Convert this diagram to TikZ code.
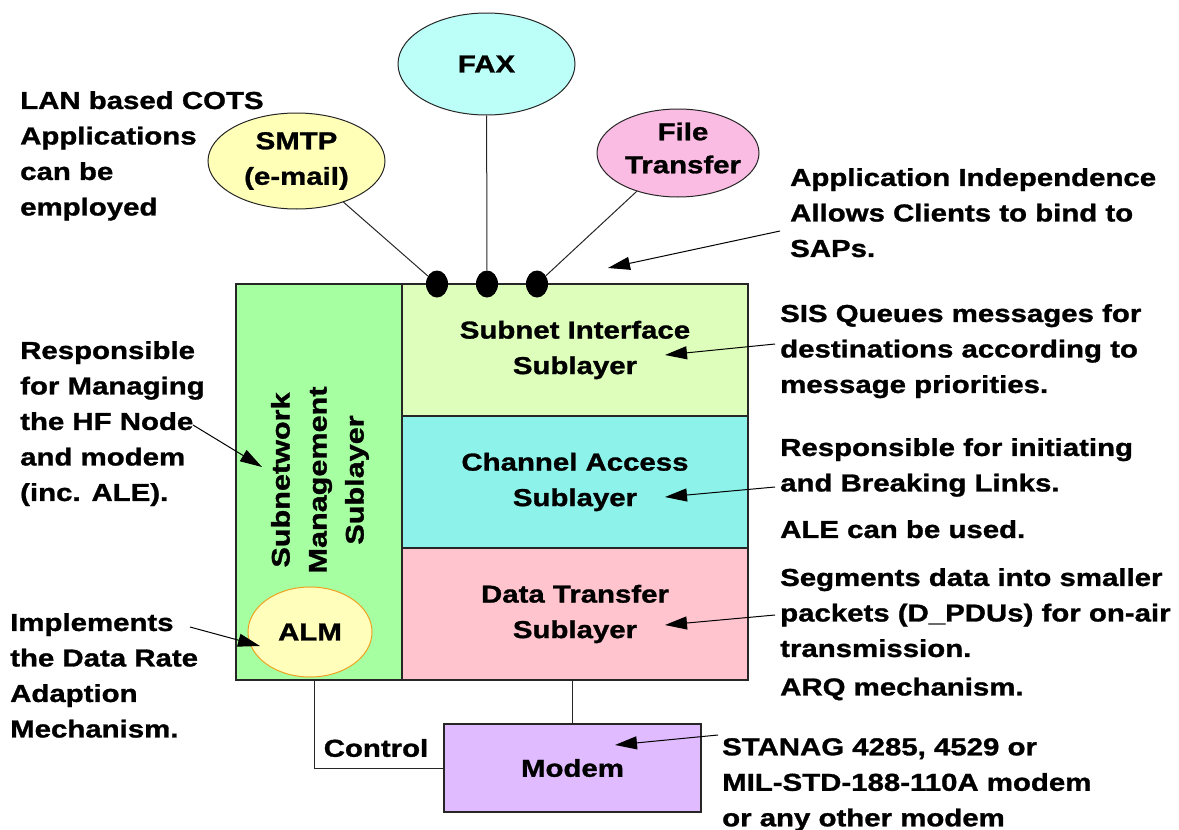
\documentclass[tikz,border=0pt]{standalone}
\usepackage{fontspec}
\setmainfont{Liberation Sans}[FakeStretch=1.2, BoldFeatures={FakeBold=1.2}]
\usetikzlibrary{shapes.geometric,arrows.meta}
\definecolor{smgreen}{RGB}{166,255,160}
\definecolor{sisgreen}{RGB}{221,255,187}
\definecolor{cacyan}{RGB}{140,242,234}
\definecolor{dtpink}{RGB}{255,196,206}
\definecolor{modemlilac}{RGB}{224,187,255}
\definecolor{faxcyan}{RGB}{187,255,248}
\definecolor{smtpyellow}{RGB}{255,255,184}
\definecolor{ftpink}{RGB}{251,188,228}
\definecolor{almyellow}{RGB}{255,255,187}
\definecolor{almorange}{RGB}{240,160,32}
\tikzset{
  bigfont/.style={font=\fontsize{24.5}{35.5}\selectfont\bfseries},
  layerbox/.style={draw=black!85, line width=1.3pt, bigfont, align=center, inner sep=0pt},
  app/.style={ellipse, draw=black!85, line width=1pt, bigfont, align=center, inner sep=0pt},
  sap/.style={ellipse, fill=black, inner sep=0pt, minimum width=22pt, minimum height=27pt},
  note/.style={bigfont, align=left, inner sep=0pt, anchor=north west},
  link/.style={draw=black!85, line width=1pt},
  pointer/.style={line width=1pt, -{Triangle[length=22pt,width=13pt]}},
}
\begin{document}
\begin{tikzpicture}[x=1pt,y=-1pt]
\useasboundingbox (0,0) rectangle (1179,830);

% protocol stack
\node[layerbox, fill=smgreen, minimum width=166pt, minimum height=396pt] (sm) at (319,482) {};
\node[layerbox, fill=sisgreen, minimum width=346pt, minimum height=132pt] (sis) at (575,350) {Subnet Interface\\Sublayer};
\node[layerbox, fill=cacyan, minimum width=346pt, minimum height=132pt] (ca) at (575,482) {Channel Access\\Sublayer};
\node[layerbox, fill=dtpink, minimum width=346pt, minimum height=132pt] (dt) at (575,614) {Data Transfer\\Sublayer};
\node[font=\fontsize{25.5}{37}\selectfont\bfseries, align=center, rotate=90, inner sep=0pt] (smlabel) at (320,480) {Subnetwork\\Management\\Sublayer};
\node[app, fill=almyellow, draw=almorange, minimum width=124pt, minimum height=90pt] (alm) at (310,632) {ALM};

% modem
\node[layerbox, fill=modemlilac, minimum width=257pt, minimum height=88pt] (modem) at (572.5,768) {Modem};

% applications and service access points
\node[app, fill=faxcyan, minimum width=177pt, minimum height=102pt] (fax) at (486.5,64) {FAX};
\node[app, fill=smtpyellow, minimum width=177pt, minimum height=96pt] (smtp) at (296.5,161) {SMTP\\(e-mail)};
\node[app, fill=ftpink, minimum width=162pt, minimum height=88pt] (ft) at (678,153) {};
\node[font=\fontsize{24.5}{33}\selectfont\bfseries, align=center, inner sep=0pt] (ftlabel) at (683,148) {File\\Transfer};
\node[sap] (d1) at (437,284) {};
\node[sap] (d2) at (487,284) {};
\node[sap] (d3) at (537,284) {};
\draw[link] (smtp) -- (d1);
\draw[link] (fax) -- (d2);
\draw[link] (ft) -- (d3);

% links to the modem
\coordinate (ctltop) at (314,680);
\draw[link] (ctltop) |- (modem.west);
\draw[link] (modem.north) -- (modem.north |- dt.south);
\node[bigfont, inner sep=0pt] (ctl) at (376,748) {Control};

% annotations
\node[note] (lan) at (20,91) {LAN based COTS\\Applications\\can be\\employed};
\node[note] (appind) at (790,168) {Application Independence\\Allows Clients to bind to\\SAPs.};
\node[note] (sisnote) at (780,304) {SIS Queues messages for\\destinations according to\\message priorities.};
\node[note] (canote) at (780,438) {Responsible for initiating\\and Breaking Links.};
\node[note] (alenote) at (780,520) {ALE can be used.};
\node[note] (dtnote) at (780,568) {Segments data into smaller\\packets (D\_PDUs) for on-air\\transmission.\\[3pt]ARQ mechanism.};
\node[note] (mgmt) at (20,341) {Responsible\\for Managing\\the HF Node\\and modem\\(inc. ALE).};
\node[note] (drate) at (10,613) {Implements\\the Data Rate\\Adaption\\Mechanism.};
\node[note] (stanag) at (722,738) {STANAG 4285, 4529 or\\MIL-STD-188-110A modem\\or any other modem};

% annotation pointers
\coordinate (p1s) at (780,231); \coordinate (p1e) at (608,268);
\coordinate (p2s) at (775,344); \coordinate (p2e) at (665,355);
\coordinate (p3s) at (775,487); \coordinate (p3e) at (665,497);
\coordinate (p4s) at (775,615); \coordinate (p4e) at (665,625);
\coordinate (p5s) at (193,425); \coordinate (p5e) at (262,467);
\coordinate (p6s) at (190,627); \coordinate (p6e) at (260,646);
\coordinate (p7s) at (718,735); \coordinate (p7e) at (615,745);
\draw[pointer] (p1s) -- (p1e);
\draw[pointer] (p2s) -- (p2e);
\draw[pointer] (p3s) -- (p3e);
\draw[pointer] (p4s) -- (p4e);
\draw[pointer] (p5s) -- (p5e);
\draw[pointer] (p6s) -- (p6e);
\draw[pointer] (p7s) -- (p7e);
\end{tikzpicture}
\end{document}
